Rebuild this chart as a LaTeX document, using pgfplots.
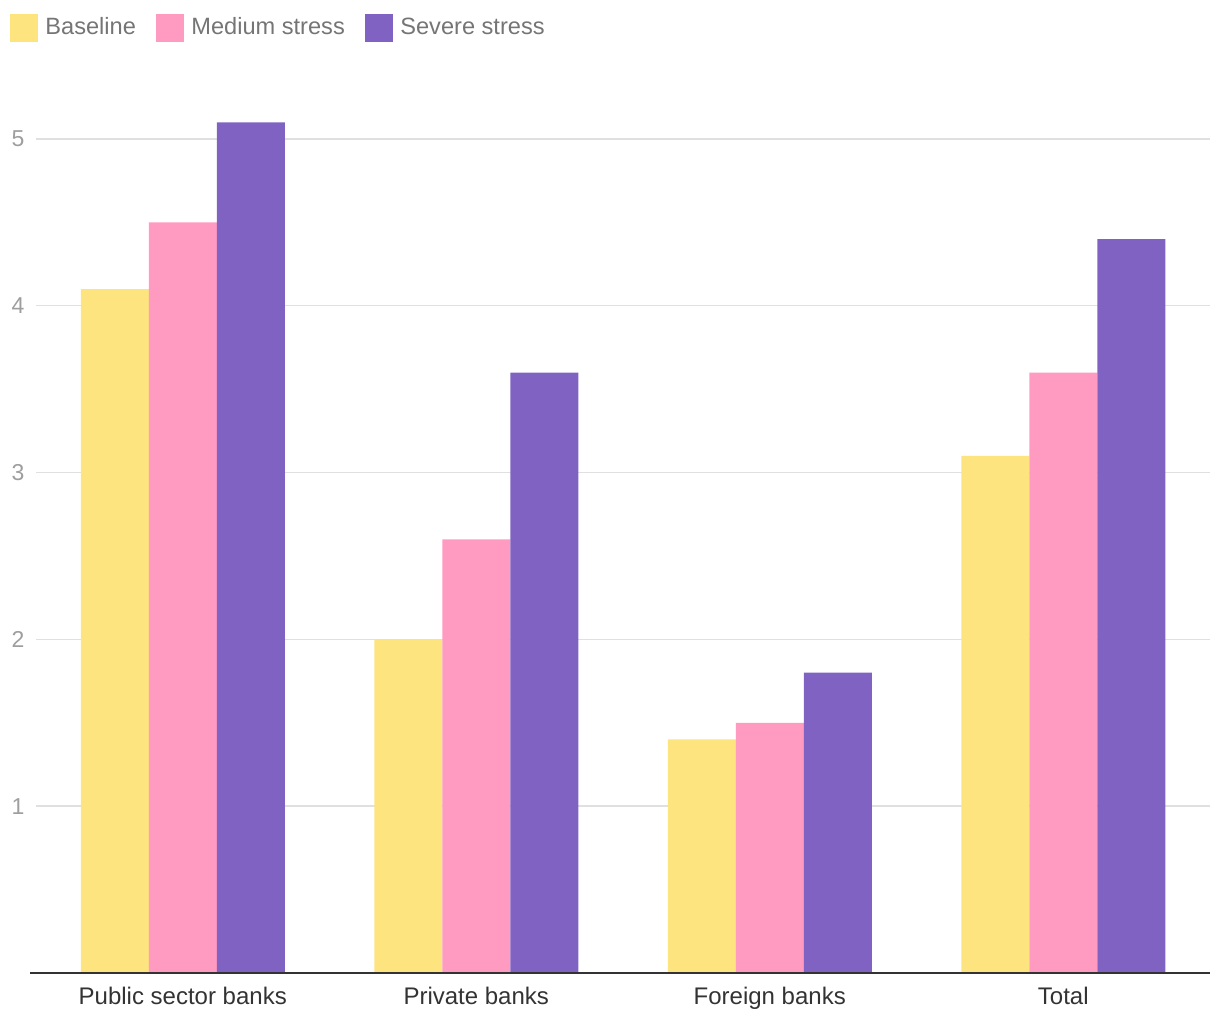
\documentclass[border=0pt]{standalone}
\usepackage{pgfplots}
\pgfplotsset{compat=1.18}
\usepackage{fontspec}
\setmainfont{Liberation Sans}
\definecolor{cyellow}{HTML}{FDE47F}
\definecolor{cpink}{HTML}{FF9AC1}
\definecolor{cpurple}{HTML}{8062C3}
\definecolor{legtext}{HTML}{757575}
\definecolor{ticktext}{HTML}{9E9E9E}
\definecolor{xtext}{HTML}{333333}
\definecolor{gridc}{HTML}{E0E0E0}
\begin{document}
\begin{tikzpicture}
\path[use as bounding box] (-18pt,-23.5pt) rectangle (592pt,486.5pt);
\begin{axis}[
  scale only axis,
  width=587pt, height=450.36pt,
  xmin=-0.5, xmax=3.5, ymin=0, ymax=5.4,
  ybar=0pt, bar width=34pt,
  xtick={0,1,2,3},
  xticklabels={Public sector banks, Private banks, Foreign banks, Total},
  ytick={1,2,3,4,5},
  axis line style={draw=none},
  axis x line*=bottom,
  axis y line*=left,
  ymajorgrids, grid style={gridc, line width=0.7pt},
  major tick length=0pt,
  tick style={draw=none},
  xticklabel style={font=\fontsize{12}{14}\selectfont, text=xtext, yshift=-3.6pt},
  yticklabel style={font=\fontsize{11.5}{13}\selectfont, text=ticktext, xshift=-2.2pt},
  /pgf/number format/assume math mode=true,
  legend columns=3,
  legend style={draw=none, fill=none, at={(-13pt,479.75pt)}, anchor=north west,
    font=\fontsize{11.8}{14}\selectfont, text=legtext, inner sep=0pt,
    nodes={inner sep=0pt},
    /tikz/every odd column/.append style={column sep=3.5pt},
    /tikz/every even column/.append style={column sep=10.25pt}},
  legend image code/.code={\fill[#1] (0pt,-7pt) rectangle (14pt,7pt);},
  clip=false,
]
\addplot[fill=cyellow, draw=none] coordinates {(0,4.1) (1,2.0) (2,1.4) (3,3.1)};
\addplot[fill=cpink, draw=none] coordinates {(0,4.5) (1,2.6) (2,1.5) (3,3.6)};
\addplot[fill=cpurple, draw=none] coordinates {(0,5.1) (1,3.6) (2,1.8) (3,4.4)};
\legend{Baseline, Medium stress, Severe stress}
\draw[xtext, line width=1pt] (axis cs:-0.52,0) -- (axis cs:3.5,0);
\end{axis}
\end{tikzpicture}
\end{document}
